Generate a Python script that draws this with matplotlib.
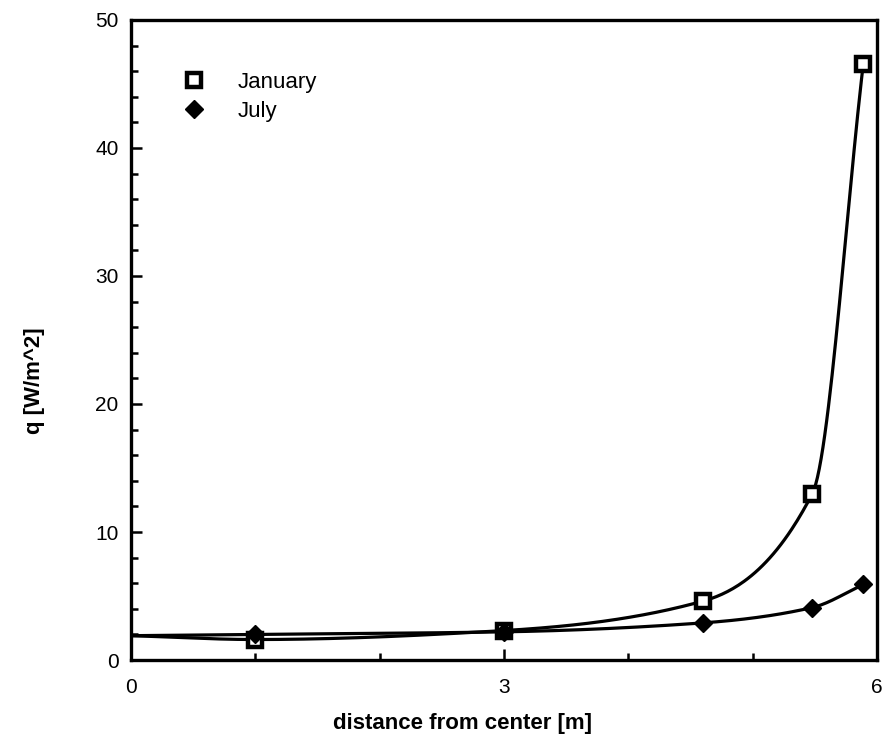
import numpy as np
import matplotlib
matplotlib.use("Agg")
import matplotlib.pyplot as plt
from matplotlib.ticker import MultipleLocator

plt.rcParams['font.family'] = ['Liberation Sans', 'DejaVu Sans']

# distance from center [m] and heat flux q [W/m^2]
dist = [0.0, 1.0, 3.0, 4.6, 5.48, 5.89]
q_january = [1.9, 1.6, 2.3, 4.6, 13.0, 46.6]
q_july = [1.9, 2.0, 2.2, 2.9, 4.1, 5.9]

x_ticks = [0, 3, 6]
y_ticks = [0, 10, 20, 30, 40, 50]


def pchip(x, y, xs):
    """Monotone cubic (Fritsch-Carlson) curve through the points."""
    x = np.asarray(x, float)
    y = np.asarray(y, float)
    h = np.diff(x)
    d = np.diff(y) / h
    m = np.zeros_like(y)
    for k in range(1, len(x) - 1):
        if d[k - 1] * d[k] > 0:
            w1 = 2 * h[k] + h[k - 1]
            w2 = h[k] + 2 * h[k - 1]
            m[k] = (w1 + w2) / (w1 / d[k - 1] + w2 / d[k])
    m[0] = d[0]
    m[-1] = d[-1]
    out = np.empty_like(xs)
    idx = np.clip(np.searchsorted(x, xs) - 1, 0, len(x) - 2)
    for i, xv in enumerate(xs):
        k = idx[i]
        t = (xv - x[k]) / h[k]
        h00 = 2 * t**3 - 3 * t**2 + 1
        h10 = t**3 - 2 * t**2 + t
        h01 = -2 * t**3 + 3 * t**2
        h11 = t**3 - t**2
        out[i] = h00 * y[k] + h10 * h[k] * m[k] + h01 * y[k + 1] + h11 * h[k] * m[k + 1]
    return out


fig = plt.figure(figsize=(8.83, 7.41), dpi=100)
ax = fig.add_axes([131 / 883, 1 - 660 / 741, 746 / 883, 640 / 741])

xs = np.linspace(dist[0], dist[-1], 400)
lw = 2.3
ax.plot(xs, pchip(dist, q_january, xs), color='black', lw=lw)
ax.plot(xs, pchip(dist, q_july, xs), color='black', lw=lw)
ax.plot(dist[1:], q_january[1:], ls='none', marker='s', ms=10,
        mfc='white', mec='black', mew=3.2, label='January', zorder=3)
ax.plot(dist[1:], q_july[1:], ls='none', marker='D', ms=9,
        mfc='black', mec='black', label='July', zorder=3)

ax.set_xlim(0, 6)
ax.set_ylim(0, 50)
ax.set_xticks(x_ticks)
ax.set_yticks(y_ticks)
ax.xaxis.set_minor_locator(MultipleLocator(1))
ax.yaxis.set_minor_locator(MultipleLocator(2))
ax.tick_params(which='both', direction='in', top=False, right=False,
               width=1.8, labelsize=15, color='black')
ax.tick_params(which='major', length=8)
ax.tick_params(which='minor', length=5)
ax.tick_params(axis='x', which='major', pad=13)
ax.tick_params(axis='y', which='major', pad=9)
for s in ax.spines.values():
    s.set_linewidth(2.4)

ax.set_xlabel('distance from center [m]', fontsize=16, fontweight='bold')
ax.set_ylabel('q [W/m^2]', fontsize=16, fontweight='bold')
ax.xaxis.set_label_coords(0.444, -0.083)
ax.yaxis.set_label_coords(-0.115, 0.436)

ax.legend(loc='upper left', bbox_to_anchor=(0.043, 0.95), frameon=False,
          fontsize=16, handletextpad=1.44, labelspacing=0.35, handlelength=1.0)

fig.savefig('out.png', dpi=100)
